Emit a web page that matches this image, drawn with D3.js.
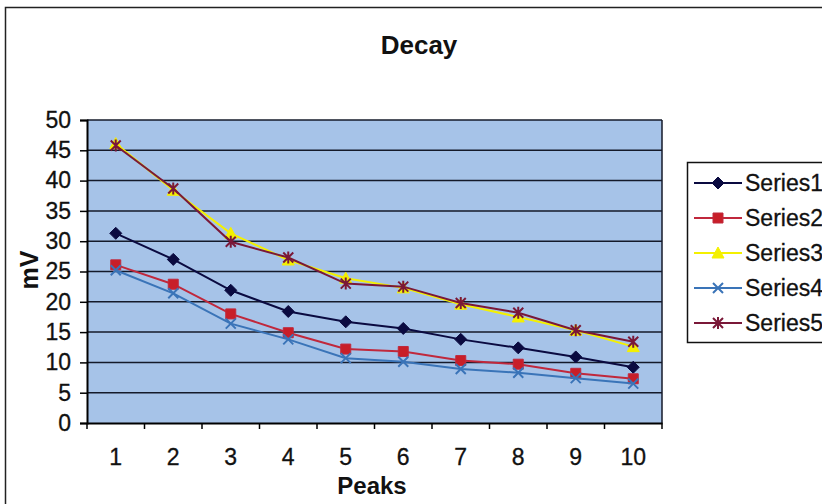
<!DOCTYPE html>
<html>
<head>
<meta charset="utf-8">
<script src="https://cdn.jsdelivr.net/npm/d3@7"></script>
<style>
  body { margin: 0; background: #fff; }
  svg { display: block; font-family: "Liberation Sans", Arial, sans-serif; }
</style>
</head>
<body>
<svg id="chart" width="822" height="504"></svg>
<script>
const categories = [1, 2, 3, 4, 5, 6, 7, 8, 9, 10];
const series1 = [31.3, 27.0, 21.9, 18.4, 16.7, 15.6, 13.8, 12.4, 10.9, 9.2];
const series2 = [26.1, 22.9, 18.0, 14.9, 12.2, 11.8, 10.3, 9.7, 8.2, 7.3];
const series3 = [46.1, 38.4, 31.3, 26.9, 23.9, 22.3, 19.6, 17.5, 15.3, 12.6];
const series4 = [25.2, 21.4, 16.4, 13.8, 10.7, 10.1, 8.9, 8.3, 7.4, 6.5];
const series5 = [45.8, 38.7, 29.9, 27.3, 23.0, 22.5, 19.8, 18.2, 15.3, 13.4];
const seriesNames = ["Series1", "Series2", "Series3", "Series4", "Series5"];
const yTicks = [0, 5, 10, 15, 20, 25, 30, 35, 40, 45, 50];
const chartTitle = "Decay";
const xTitle = "Peaks";
const yTitle = "mV";

const seriesValues = [series1, series2, series3, series4, series5];
const styles = [
  { color: "#0a0a40", marker: "diamond" },
  { color: "#c0283c", marker: "square", fill: "#c81e28" },
  { color: "#f4f000", marker: "triangle" },
  { color: "#3a74b8", marker: "x" },
  { color: "#7a1838", marker: "star" }
];

const svg = d3.select("#chart");
const pL = 87, pR = 662, pT = 120, pB = 423;
const labelFont = 23;

// outer frame
svg.append("rect").attr("x", 5.5).attr("y", 7.5).attr("width", 830).attr("height", 520)
  .attr("fill", "#fff").attr("stroke", "#222").attr("stroke-width", 1.5);

const x = d3.scaleBand().domain(categories).range([pL, pR]).padding(0);
const y = d3.scaleLinear().domain([0, 50]).range([pB, pT]);

// plot background
svg.append("rect").attr("x", pL).attr("y", pT).attr("width", pR - pL).attr("height", pB - pT)
  .attr("fill", "#a6c3e8");

// gridlines
svg.append("g").selectAll("line").data(yTicks.filter(d => d > 0)).join("line")
  .attr("x1", pL).attr("x2", pR)
  .attr("y1", d => y(d)).attr("y2", d => y(d))
  .attr("stroke", "#141a2a").attr("stroke-width", 1.5);

// right border
svg.append("line").attr("x1", pR).attr("x2", pR).attr("y1", pT).attr("y2", pB)
  .attr("stroke", "#141a2a").attr("stroke-width", 1.5);

// y axis
const yAxis = d3.axisLeft(y).tickValues(yTicks).tickSize(7).tickPadding(9);
const gy = svg.append("g").attr("transform", `translate(${pL},0)`).call(yAxis);
gy.select(".domain").attr("stroke", "#000").attr("stroke-width", 2);
gy.selectAll(".tick line").attr("stroke", "#000").attr("stroke-width", 1.5);
gy.selectAll(".tick text").attr("font-size", labelFont).attr("fill", "#111")
  .attr("stroke", "#111").attr("stroke-width", 0.3)
  .attr("font-family", "Liberation Sans, Arial, sans-serif");

// x axis
const xAxis = d3.axisBottom(x).tickSize(0).tickPadding(26);
const gx = svg.append("g").attr("transform", `translate(0,${pB})`).call(xAxis);
gx.select(".domain").attr("stroke", "#000").attr("stroke-width", 2);
gx.selectAll(".tick text").attr("font-size", labelFont).attr("fill", "#111")
  .attr("stroke", "#111").attr("stroke-width", 0.3)
  .attr("font-family", "Liberation Sans, Arial, sans-serif");
// tick marks at category boundaries
const bounds = categories.map(c => x(c)).concat([x(categories[categories.length - 1]) + x.bandwidth()]);
svg.append("g").selectAll("line").data(bounds).join("line")
  .attr("x1", d => d).attr("x2", d => d).attr("y1", pB).attr("y2", pB + 6)
  .attr("stroke", "#000").attr("stroke-width", 1.5);

// titles
svg.append("text").attr("x", 419).attr("y", 54).attr("text-anchor", "middle")
  .attr("font-size", 26).attr("font-weight", "bold").attr("fill", "#111").text(chartTitle);
svg.append("text").attr("x", 372).attr("y", 494).attr("text-anchor", "middle")
  .attr("font-size", 24).attr("font-weight", "bold").attr("fill", "#111").text(xTitle);
svg.append("text").attr("transform", "translate(38,270) rotate(-90)").attr("text-anchor", "middle")
  .attr("font-size", 25).attr("font-weight", "bold").attr("fill", "#111").text(yTitle);

function markerPath(type, cx, cy) {
  const s = 5;
  switch (type) {
    case "diamond": return `M${cx},${cy - s - 1}L${cx + s + 1},${cy}L${cx},${cy + s + 1}L${cx - s - 1},${cy}Z`;
    case "square": return `M${cx - s},${cy - s}h${2 * s}v${2 * s}h${-2 * s}Z`;
    case "triangle": return `M${cx},${cy - s - 1}L${cx + s + 1},${cy + s}L${cx - s - 1},${cy + s}Z`;
    case "x": return `M${cx - s},${cy - s}L${cx + s},${cy + s}M${cx + s},${cy - s}L${cx - s},${cy + s}`;
    case "star": return `M${cx - s},${cy - s}L${cx + s},${cy + s}M${cx + s},${cy - s}L${cx - s},${cy + s}M${cx},${cy - s - 1}L${cx},${cy + s + 1}`;
  }
}

const line = d3.line().x((d, i) => x(categories[i]) + x.bandwidth() / 2).y(d => y(d));

[0, 1, 2, 3, 4].forEach(si => {
  const st = styles[si];
  const vals = seriesValues[si];
  svg.append("path").datum(vals).attr("d", line)
    .attr("fill", "none").attr("stroke", st.color).attr("stroke-width", 2);
  const filled = st.marker === "diamond" || st.marker === "square" || st.marker === "triangle";
  svg.append("g").selectAll("path").data(vals).join("path")
    .attr("d", (d, i) => markerPath(st.marker, x(categories[i]) + x.bandwidth() / 2, y(d)))
    .attr("fill", filled ? (st.fill || st.color) : "none")
    .attr("stroke", st.color).attr("stroke-width", filled ? 1 : 2);
});

// legend
const lg = svg.append("g");
lg.append("rect").attr("x", 687.5).attr("y", 162.5).attr("width", 160).attr("height", 180)
  .attr("fill", "#fff").attr("stroke", "#111").attr("stroke-width", 1.5);
seriesNames.forEach((name, i) => {
  const st = styles[i];
  const cy = 183 + i * 35;
  lg.append("line").attr("x1", 694).attr("x2", 742).attr("y1", cy).attr("y2", cy)
    .attr("stroke", st.color).attr("stroke-width", 2);
  const filled = st.marker === "diamond" || st.marker === "square" || st.marker === "triangle";
  lg.append("path").attr("d", markerPath(st.marker, 718, cy))
    .attr("fill", filled ? (st.fill || st.color) : "none")
    .attr("stroke", st.color).attr("stroke-width", filled ? 1 : 2);
  lg.append("text").attr("x", 745).attr("y", cy + 8).attr("font-size", labelFont)
    .attr("fill", "#111").attr("stroke", "#111").attr("stroke-width", 0.3).text(name);
});
</script>
</body>
</html>
